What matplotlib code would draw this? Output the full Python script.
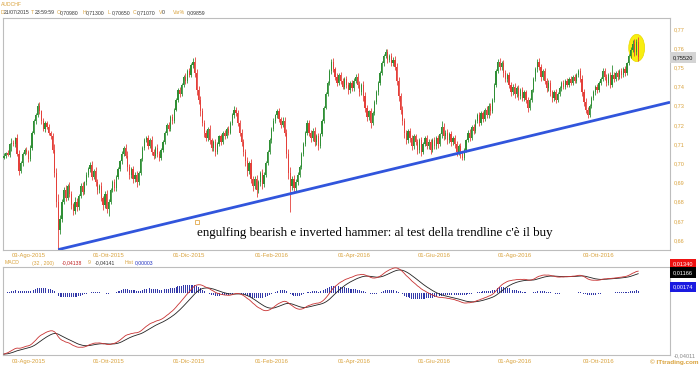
import numpy as np
import pandas as pd
import matplotlib
matplotlib.use("Agg")
import matplotlib.pyplot as plt
from matplotlib.patches import Ellipse

# ---------------- data (pips = price*10000) ----------------
symbol = "AUDCHF"
start_date = "2015-07-15"
first_open = 7030

closes = [
    7040, 7052, 7045, 7098, 7107, 7098, 7130, 7050, 6960, 7000, 7050, 7070, 7060, 7020, 7080, 7160, 7220, 7250, 7300, 7270,
    7220, 7180, 7210, 7190, 7160, 7140, 7070, 6950, 6800, 6650, 6710, 6800, 6860, 6820, 6880, 6840, 6780, 6750, 6800, 6770,
    6830, 6880, 6850, 6900, 6940, 6970, 6990, 6930, 6960, 6900, 6860, 6880, 6820, 6780, 6840, 6760, 6800, 6860, 6900, 6870,
    6930, 6970, 7010, 7050, 7080, 7040, 6980, 6940, 6970, 6920, 6940, 6900, 6950, 7020, 7080, 7120, 7130, 7090, 7120, 7060,
    7040, 7080, 7050, 7030, 7070, 7110, 7160, 7200, 7180, 7240, 7220, 7280, 7330, 7380, 7360, 7410, 7450, 7430, 7480, 7460,
    7510, 7530, 7470, 7380, 7330, 7270, 7210, 7160, 7130, 7180, 7120, 7080, 7110, 7060, 7100, 7140, 7110, 7160, 7140, 7180,
    7160, 7210, 7250, 7280, 7260, 7210, 7160, 7110, 7060, 7010, 6960, 7000, 6920, 6880, 6920, 6860, 6900, 6950, 6890, 6940,
    7000, 7060, 7120, 7180, 7220, 7250, 7270, 7230, 7200, 7220, 7160, 7050, 6950, 6880, 6920, 6870, 6900, 6940, 6980, 7050,
    7100, 7160, 7210, 7160, 7130, 7170, 7110, 7140, 7090, 7150, 7220, 7290, 7360, 7420, 7480, 7530, 7490, 7450, 7420, 7460,
    7430, 7400, 7440, 7410, 7380, 7420, 7390, 7430, 7450, 7410, 7370, 7410, 7350, 7290, 7240, 7270, 7210, 7260, 7320, 7370,
    7420, 7470, 7520, 7560, 7580, 7540, 7560, 7520, 7540, 7500, 7430, 7350, 7280, 7220, 7160, 7120, 7170, 7130, 7090, 7140,
    7110, 7070, 7120, 7060, 7100, 7130, 7090, 7110, 7070, 7120, 7090, 7130, 7100, 7150, 7190, 7140, 7160, 7120, 7150, 7110,
    7130, 7100, 7060, 7090, 7050, 7030, 7070, 7120, 7160, 7130, 7190, 7170, 7220, 7250, 7210, 7260, 7230, 7280, 7250, 7300,
    7270, 7330, 7410, 7480, 7530, 7500, 7520, 7470, 7440, 7460, 7410, 7370, 7400, 7360, 7390, 7350, 7380, 7340, 7370, 7330,
    7290, 7330, 7380, 7440, 7490, 7530, 7500, 7450, 7480, 7430, 7390, 7420, 7370, 7340, 7370, 7330, 7360, 7390, 7420, 7400,
    7430, 7410, 7440, 7420, 7450, 7430, 7460, 7480, 7440, 7370, 7320, 7280, 7250, 7300, 7340, 7370, 7400, 7380, 7420, 7440,
    7480, 7450, 7420, 7460, 7410, 7460, 7440, 7470, 7450, 7480, 7460, 7490, 7470, 7520, 7560, 7590, 7620, 7580, 7630, 7552,
]

up_wick = [
    12, 8, 15, 10, 23, 14, 8, 20, 18, 12, 9, 11, 16, 10, 13, 9, 12, 10, 14, 18,
    10, 16, 9, 12, 14, 8, 20, 30, 25, 40, 22, 15, 18, 26, 12, 20, 16, 14, 22, 18,
    12, 15, 20, 10, 14, 9, 16, 22, 12, 18, 20, 14, 24, 12, 16, 20, 15, 10, 12, 18,
    10, 12, 9, 14, 11, 20, 26, 18, 12, 16, 14, 20, 10, 8, 12, 10, 14, 18, 10, 20,
    16, 10, 18, 14, 8, 10, 9, 12, 16, 10, 18, 9, 12, 10, 16, 9, 12, 18, 10, 16,
    12, 18, 24, 20, 22, 18, 20, 16, 14, 10, 18, 14, 12, 16, 10, 9, 14, 10, 12, 9,
    14, 10, 12, 20, 14, 16, 18, 20, 16, 14, 22, 12, 24, 16, 12, 20, 15, 12, 22, 14,
    10, 8, 12, 10, 14, 9, 15, 18, 12, 20, 22, 20, 26, 30, 14, 20, 16, 12, 10, 9,
    12, 10, 16, 18, 14, 12, 20, 10, 16, 8, 10, 9, 12, 10, 9, 12, 16, 14, 18, 10,
    14, 16, 10, 14, 16, 10, 16, 12, 14, 18, 20, 10, 18, 20, 16, 10, 18, 10, 8, 12,
    10, 9, 12, 10, 14, 18, 10, 16, 12, 18, 20, 22, 18, 20, 16, 14, 10, 16, 18, 12,
    14, 16, 12, 18, 10, 12, 16, 14, 18, 10, 16, 12, 18, 10, 30, 18, 12, 16, 12, 18,
    12, 16, 18, 12, 16, 14, 10, 9, 12, 16, 10, 14, 10, 12, 18, 10, 14, 10, 16, 12,
    16, 10, 9, 12, 14, 16, 12, 18, 16, 12, 18, 16, 12, 16, 12, 16, 12, 16, 12, 14,
    16, 10, 9, 10, 12, 14, 16, 18, 12, 18, 16, 12, 16, 14, 12, 16, 10, 12, 9, 14,
    10, 14, 10, 14, 12, 14, 10, 12, 18, 20, 16, 18, 14, 10, 9, 12, 10, 14, 10, 12,
    14, 18, 16, 10, 18, 50, 16, 12, 16, 12, 16, 12, 16, 10, 12, 14, 20, 26, 15, 30,
]

dn_wick = [
    10, 14, 9, 12, 33, 10, 14, 12, 20, 10, 12, 9, 14, 16, 10, 12, 9, 14, 10, 12,
    14, 12, 16, 10, 14, 12, 18, 20, 30, 100, 20, 16, 12, 18, 14, 16, 20, 22, 14, 18,
    16, 12, 14, 10, 12, 9, 14, 16, 12, 18, 20, 14, 16, 22, 12, 20, 35, 14, 10, 16,
    12, 10, 9, 12, 10, 14, 18, 20, 16, 22, 18, 24, 14, 10, 9, 12, 10, 16, 12, 18,
    20, 14, 16, 18, 12, 10, 9, 12, 14, 10, 16, 12, 9, 10, 14, 9, 10, 16, 10, 12,
    10, 14, 18, 22, 20, 24, 18, 22, 16, 14, 20, 18, 14, 22, 14, 12, 16, 10, 12, 10,
    14, 10, 9, 12, 14, 18, 20, 22, 20, 24, 26, 18, 24, 22, 16, 36, 14, 16, 24, 14,
    10, 9, 10, 12, 10, 9, 12, 16, 14, 12, 20, 24, 30, 134, 18, 24, 16, 12, 10, 12,
    10, 9, 12, 20, 18, 12, 22, 14, 20, 12, 9, 10, 9, 12, 10, 14, 16, 14, 18, 12,
    16, 14, 12, 16, 18, 12, 16, 14, 12, 16, 20, 12, 24, 22, 18, 14, 26, 12, 10, 9,
    12, 10, 9, 12, 10, 16, 12, 14, 12, 16, 20, 24, 22, 20, 26, 22, 14, 18, 20, 14,
    16, 20, 14, 24, 14, 12, 18, 14, 20, 12, 16, 14, 18, 12, 16, 20, 14, 18, 14, 20,
    14, 18, 22, 16, 20, 15, 12, 10, 9, 16, 10, 18, 12, 10, 18, 12, 16, 12, 16, 12,
    16, 10, 9, 10, 12, 16, 12, 20, 18, 14, 18, 20, 14, 18, 14, 18, 14, 18, 14, 18,
    24, 12, 10, 9, 10, 12, 16, 20, 14, 18, 20, 14, 18, 20, 14, 18, 12, 10, 12, 14,
    12, 14, 10, 14, 12, 14, 12, 10, 16, 20, 22, 20, 14, 10, 12, 10, 14, 12, 10, 12,
    10, 16, 18, 12, 20, 14, 18, 12, 16, 12, 16, 12, 16, 10, 9, 10, 12, 20, 14, 18,
]

tick_dates = ["2015-08-03", "2015-10-01", "2015-12-01", "2016-02-01",
              "2016-04-01", "2016-06-01", "2016-08-01", "2016-10-03"]
tick_labels = ["03-Ago-2015", "01-Ott-2015", "01-Dic-2015", "01-Feb-2016",
               "01-Apr-2016", "01-Giu-2016", "01-Ago-2016", "03-Ott-2016"]
price_ticks = [0.66, 0.67, 0.68, 0.69, 0.70, 0.71, 0.72, 0.73, 0.74, 0.75, 0.76, 0.77]

# MACD settings and starting values (header)
macd_fast, macd_slow, macd_sig = 32, 200, 9
macd_start = -0.04138
signal_start = -0.04141

# trendline anchors (candle index, price)
trend_a = (29, 0.6550)
trend_b = (339, 0.7278)

# header texts
header_pairs = [("D", "21/07/2015"), ("T", "23:59:59"), ("O", "0,70980"), ("H", "0,71300"),
                ("L", "0,70650"), ("C", "0,71070"), ("V", "0"), ("Var%", "0,09859")]
header_x = [0.5, 31, 56.5, 82.5, 108, 133, 158.5, 172.5]
macd_labels = ["0,01340", "0,01166", "0,00174"]
last_price_label = "0,75520"
note_text = "engulfing bearish e inverted hammer: al test della trendline c'è il buy"

assert len(closes) == len(up_wick) == len(dn_wick)

# ---------------- derived ----------------
c = np.array(closes) / 10000.0
o = np.concatenate([[first_open / 10000.0], c[:-1]])
h = np.maximum(o, c) + np.array(up_wick) / 10000.0
l = np.minimum(o, c) - np.array(dn_wick) / 10000.0
n = len(c)
idx = np.arange(n)
dates = pd.bdate_range(start_date, periods=n)
tick_pos = [int(dates.searchsorted(pd.Timestamp(d))) for d in tick_dates]

# exponential moving averages -> MACD, signal, histogram
af, as_, ag = 2 / (macd_fast + 1), 2 / (macd_slow + 1), 2 / (macd_sig + 1)
fast = np.empty(n); slow = np.empty(n); sig = np.empty(n)
fast[0] = c[0]; slow[0] = c[0] - macd_start
for i in range(1, n):
    fast[i] = fast[i - 1] + af * (c[i] - fast[i - 1])
    slow[i] = slow[i - 1] + as_ * (c[i] - slow[i - 1])
macd = fast - slow
sig[0] = signal_start
for i in range(1, n):
    sig[i] = sig[i - 1] + ag * (macd[i] - sig[i - 1])
hist = macd - sig

# ---------------- figure ----------------
W, H = 700, 365
fig = plt.figure(figsize=(W / 100, H / 100), dpi=100)
fig.patch.set_facecolor("white")
FONT = "Liberation Sans"
ORANGE = "#d9a23c"
DARK = "#333333"
BORDER = "#bdbdbd"
FS = 3.7


def fx(x):
    return x / W


def fy(y):
    return 1 - y / H


XL = (-0.5, 356.0)
ax1 = fig.add_axes([fx(3), fy(250), (670 - 3) / W, (250 - 18) / H])
ax2 = fig.add_axes([fx(3), fy(355), (670 - 3) / W, (355 - 267) / H])

GREEN = "#2f8f35"
RED = "#e4403a"
cols = np.where(c >= o, GREEN, RED)

# yellow highlight
ax1.add_patch(Ellipse((338.2, 0.7601), 8.5, 0.0142, facecolor="#f8ee10",
                      edgecolor="#e8d800", lw=0.5, zorder=1))
ax1.vlines(idx, l, h, colors=cols, lw=0.6, zorder=3)
ax1.bar(idx, np.abs(c - o), bottom=np.minimum(o, c), width=0.65, color=cols,
        linewidth=0, zorder=3)

# trendline
slope = (trend_b[1] - trend_a[1]) / (trend_b[0] - trend_a[0])
tx = np.array([trend_a[0], XL[1]])
ax1.plot(tx, trend_a[1] + slope * (tx - trend_a[0]), color="#3155dc", lw=2.0,
         solid_capstyle="butt", zorder=4)

ax1.set_xlim(*XL)
ax1.set_ylim(0.6548, 0.7757)
ax1.yaxis.tick_right()
ax1.set_yticks(price_ticks)
ax1.set_yticklabels([f"{v:.2f}".replace(".", ",") for v in price_ticks])
ax1.set_xticks(tick_pos)
ax1.set_xticklabels(tick_labels)
ax1.tick_params(axis="both", length=0, labelcolor=ORANGE)
ax1.tick_params(axis="y", pad=3, labelsize=4.0)
ax1.tick_params(axis="x", pad=2.3, labelsize=4.2)
for t in ax1.get_xticklabels() + ax1.get_yticklabels():
    t.set_fontfamily(FONT)

# annotation
note_i, note_p = 103.0, 0.6693
ax1.plot([note_i], [note_p], marker="s", ms=3.2, mfc="white", mec="#e2a84a",
         mew=0.6, zorder=5)
ax1.text(note_i + 0.3, 0.6623, note_text, fontsize=9.4, family="Liberation Serif",
         color="black", va="baseline", ha="left", zorder=6)

# MACD panel (autoscaled to the lines, like the platform)
ax2.bar(idx, hist, width=0.5, color="#3238a8", linewidth=0, zorder=2)
ax2.plot(idx, sig, color="#222222", lw=0.6, zorder=3)
ax2.plot(idx, macd, color="#c83232", lw=0.6, zorder=3)
ax2.set_xlim(*XL)
lo = min(macd.min(), sig.min())
hi = max(macd.max(), sig.max())
pad = (hi - lo) * 0.01
ax2.set_ylim(lo - pad, hi + pad)
ax2.set_yticks([])
ax2.set_xticks(tick_pos)
ax2.set_xticklabels(tick_labels)
ax2.tick_params(axis="x", length=0, labelsize=4.2, labelcolor=ORANGE, pad=3.2)
for t in ax2.get_xticklabels():
    t.set_fontfamily(FONT)

for ax in (ax1, ax2):
    for s in ax.spines.values():
        s.set_color(BORDER)
        s.set_linewidth(0.8)

# header texts
fig.text(fx(1), fy(4), symbol, fontsize=FS, color=ORANGE, family=FONT, va="center")
for (lab, val), x in zip(header_pairs, header_x):
    fig.text(fx(x), fy(12.7), lab, fontsize=FS, color=ORANGE, family=FONT, va="center")
    fig.text(fx(x + (3.3 if len(lab) == 1 else 14.5)), fy(12.7), val, fontsize=FS,
             color=DARK, family=FONT, va="center")

# MACD header
mh = [("MACD", 5, ORANGE), ("(32 , 200)", 32, ORANGE), ("-0,04138", 62, "#c02020"),
      ("9", 88, ORANGE), ("-0,04141", 95, DARK), ("Hist", 125, ORANGE), ("0,00003", 135, "#2030c0")]
for s, x, col in mh:
    fig.text(fx(x), fy(263), s, fontsize=FS, color=col, family=FONT, va="center")

# right side value boxes
def box(y, s, fc, tc):
    fig.text(fx(673), fy(y), s, fontsize=4.1, color=tc, family=FONT, va="center",
             ha="left", bbox=dict(boxstyle="square,pad=0.5", fc=fc, ec="none"))

box(57.5, last_price_label, "#d4d4d4", "#111111")
box(264, macd_labels[0], "#ee1111", "white")
box(272.5, macd_labels[1], "#000000", "white")
box(287, macd_labels[2], "#1a1ae0", "white")
fig.text(fx(674), fy(355.5), "-0,04011", fontsize=4.1, color="#888888", family=FONT, va="center")
fig.text(fx(698), fy(362), "© ITtrading.com", fontsize=4.6, color=ORANGE, family=FONT,
         va="center", ha="right", weight="bold")

fig.savefig("out.png", dpi=100, facecolor="white")
